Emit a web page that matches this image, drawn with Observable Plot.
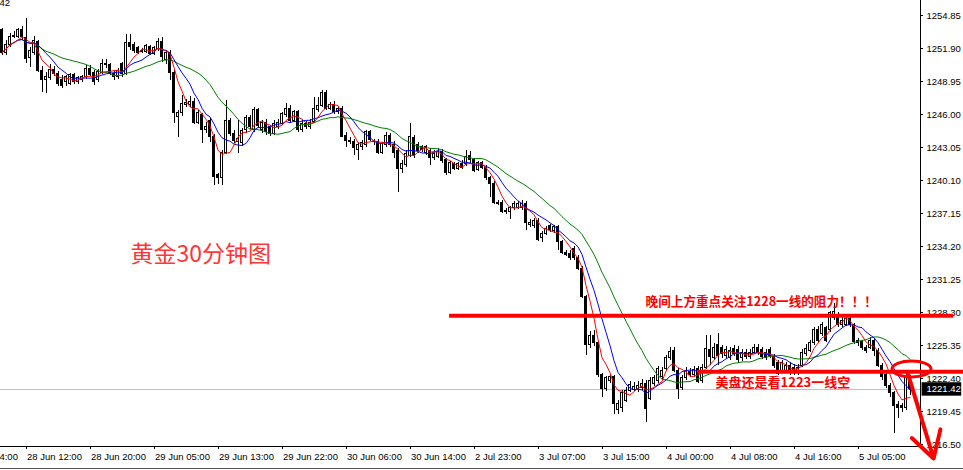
<!DOCTYPE html>
<html><head><meta charset="utf-8">
<script src="https://cdn.jsdelivr.net/npm/d3@7"></script>
<script src="https://cdn.jsdelivr.net/npm/@observablehq/plot@0.6"></script>
<style>
html,body{margin:0;padding:0;background:#fff;}
#chart svg{display:block;}
</style></head><body><div id="chart"></div>
<script>
// ---- OHLC data (XAUUSD, 30-minute bars) ----
const open = [
1253.51,1251.54,1252.17,1252.97,1252.97,1253.51,1252.88,1251.09,1251.54,1252.44,
1249.93,1249.04,1249.22,1250.02,1249.66,1249.04,1248.86,1248.77,1249.49,1248.86,
1249.04,1249.31,1250.11,1249.75,1249.04,1249.75,1250.47,1250.38,1249.66,1249.31,
1250.47,1249.66,1252.35,1252.17,1251.90,1251.72,1251.63,1251.99,1251.45,1251.81,
1252.52,1250.83,1251.54,1249.75,1245.82,1246.09,1246.89,1246.89,1247.16,1245.28,
1245.91,1244.57,1245.46,1244.03,1240.55,1240.28,1242.60,1245.46,1244.30,1243.50,
1243.41,1244.57,1245.73,1244.57,1246.36,1244.57,1245.28,1244.84,1244.30,1244.84,
1245.19,1245.91,1246.53,1245.46,1246.18,1244.57,1245.19,1244.84,1245.37,1246.36,
1246.80,1247.88,1246.53,1246.89,1246.18,1246.53,1244.12,1243.67,1243.50,1242.87,
1243.05,1243.23,1244.39,1243.58,1243.58,1242.60,1243.23,1244.12,1243.23,1242.78,
1241.17,1241.44,1242.33,1243.94,1243.23,1243.05,1242.60,1242.78,1242.07,1242.24,
1242.69,1241.89,1240.81,1241.53,1241.17,1241.53,1241.53,1242.33,1241.89,1241.08,
1241.62,1241.26,1240.28,1239.83,1238.13,1238.13,1237.24,1237.24,1237.60,1237.68,
1237.60,1238.04,1236.16,1235.99,1236.52,1235.00,1235.36,1235.99,1235.54,1235.90,
1234.56,1233.66,1233.57,1234.02,1233.21,1232.23,1229.64,1225.35,1226.24,1225.53,
1222.67,1221.50,1222.22,1222.49,1219.54,1219.72,1220.43,1221.32,1221.41,1221.41,
1221.59,1221.95,1220.61,1221.95,1222.22,1222.49,1223.29,1224.27,1224.90,1223.11,
1221.59,1222.40,1223.02,1222.75,1223.29,1222.22,1223.38,1224.99,1224.27,1225.35,
1225.17,1224.45,1224.27,1225.08,1224.99,1224.19,1224.72,1224.36,1224.72,1225.17,
1224.99,1224.72,1224.99,1224.36,1223.74,1223.11,1223.11,1223.56,1223.38,1222.93,
1223.56,1224.63,1224.90,1225.53,1226.69,1226.42,1226.87,1226.69,1227.85,1228.12,
1227.14,1227.22,1227.76,1227.14,1225.79,1225.62,1225.17,1225.17,1225.79,1224.90,
1223.56,1222.67,1221.77,1221.06,1220.07,1219.98,1219.80,1222.31];
const high = [
1253.69,1252.61,1253.24,1253.42,1253.69,1253.87,1254.58,1251.99,1252.97,1252.61,
1250.29,1249.75,1250.47,1250.29,1249.84,1249.49,1249.49,1249.66,1249.66,1249.40,
1249.49,1250.38,1250.38,1249.93,1250.02,1250.92,1250.92,1250.56,1249.93,1250.11,
1250.65,1253.15,1253.15,1252.44,1252.08,1251.90,1252.26,1252.17,1252.08,1252.79,
1252.88,1251.72,1251.72,1249.93,1246.36,1247.70,1247.34,1247.61,1247.43,1246.36,
1246.09,1245.28,1245.64,1244.21,1240.72,1242.78,1247.25,1245.64,1244.57,1245.46,
1244.75,1245.91,1245.91,1246.62,1246.53,1245.46,1245.55,1245.02,1245.46,1245.55,
1246.18,1246.98,1246.80,1246.36,1246.36,1245.46,1245.37,1245.55,1247.52,1247.52,
1248.14,1248.14,1247.07,1247.16,1246.71,1246.71,1244.39,1243.94,1243.76,1243.50,
1243.67,1244.57,1244.57,1243.76,1243.76,1243.50,1244.39,1244.30,1243.58,1242.96,
1241.89,1242.78,1245.19,1244.12,1243.50,1243.23,1243.23,1242.96,1242.78,1242.96,
1242.87,1242.07,1241.80,1241.71,1241.71,1241.89,1242.78,1242.69,1242.07,1241.80,
1241.80,1241.44,1240.46,1240.01,1238.31,1238.31,1237.60,1237.77,1238.22,1238.22,
1238.31,1238.22,1236.61,1236.70,1236.70,1235.54,1235.99,1236.16,1236.08,1236.08,
1234.73,1233.84,1233.84,1234.20,1233.39,1232.41,1229.82,1226.60,1226.69,1225.71,
1222.84,1222.58,1222.67,1222.67,1220.43,1221.32,1221.59,1222.13,1222.04,1222.13,
1222.31,1222.22,1222.49,1222.67,1223.47,1223.38,1224.45,1225.17,1225.17,1223.29,
1222.67,1223.38,1223.29,1223.47,1223.47,1223.65,1226.24,1226.24,1225.53,1226.42,
1225.35,1225.26,1225.17,1225.35,1225.26,1224.99,1224.99,1224.99,1225.44,1225.44,
1225.17,1224.99,1225.17,1224.54,1224.01,1224.01,1223.83,1223.83,1223.65,1223.65,
1224.99,1225.44,1225.79,1226.96,1227.05,1227.40,1227.05,1228.39,1229.10,1228.30,
1227.85,1227.94,1227.94,1227.31,1225.97,1225.79,1225.35,1226.06,1225.97,1225.08,
1223.74,1222.84,1221.95,1221.24,1220.34,1220.16,1222.84,1222.67];
const low = [
1251.27,1251.27,1251.99,1252.79,1252.79,1252.61,1250.56,1250.20,1251.27,1249.75,
1247.97,1247.88,1249.04,1249.40,1248.50,1248.32,1248.50,1248.59,1248.68,1248.68,
1248.86,1249.13,1249.40,1248.59,1248.86,1249.57,1250.11,1249.49,1249.04,1249.13,
1249.31,1249.49,1251.72,1251.45,1251.36,1251.45,1251.45,1251.27,1251.27,1251.63,
1250.65,1250.47,1249.04,1245.19,1243.94,1245.82,1246.62,1246.62,1245.10,1245.10,
1243.41,1244.30,1243.50,1239.65,1239.74,1239.65,1242.42,1244.03,1243.41,1242.51,
1243.14,1244.30,1244.66,1244.39,1244.75,1244.30,1244.12,1244.03,1244.12,1244.66,
1245.02,1245.73,1245.28,1245.28,1244.39,1244.39,1244.66,1244.66,1245.19,1246.18,
1246.62,1246.36,1246.36,1246.00,1246.00,1243.94,1243.05,1243.32,1242.33,1241.89,
1242.78,1243.05,1243.58,1243.23,1242.42,1242.42,1243.05,1243.05,1242.07,1239.03,
1240.72,1241.26,1242.15,1242.07,1242.51,1242.60,1242.33,1241.44,1241.89,1242.07,
1241.62,1240.55,1240.63,1240.99,1240.99,1241.08,1241.35,1241.62,1240.81,1240.90,
1241.08,1240.10,1238.58,1237.95,1237.86,1237.15,1237.06,1236.61,1237.42,1237.51,
1237.42,1235.63,1235.90,1235.81,1234.64,1234.56,1235.18,1235.45,1235.36,1233.84,
1233.48,1233.30,1232.95,1232.95,1232.05,1229.55,1224.45,1225.08,1225.26,1222.49,
1220.70,1221.24,1221.95,1219.18,1219.18,1219.36,1220.25,1221.15,1221.24,1221.15,
1221.32,1218.46,1220.43,1221.68,1221.95,1222.22,1223.02,1224.01,1222.93,1220.52,
1221.32,1222.22,1222.49,1222.49,1221.95,1221.95,1223.20,1223.56,1224.01,1223.56,
1224.19,1224.19,1224.01,1224.36,1223.74,1223.92,1224.10,1224.10,1224.54,1224.45,
1224.10,1224.01,1224.19,1223.29,1222.67,1222.93,1222.93,1222.67,1222.67,1222.67,
1223.38,1224.36,1224.72,1225.35,1225.62,1226.15,1225.62,1226.51,1227.58,1226.96,
1226.96,1227.05,1226.96,1225.44,1225.26,1224.90,1224.63,1224.99,1224.36,1223.38,
1222.22,1221.50,1220.70,1217.48,1218.82,1219.36,1219.54,1220.88];
const close = [
1251.54,1252.17,1252.97,1253.06,1253.51,1252.97,1251.00,1251.72,1252.61,1249.93,
1249.04,1249.31,1250.02,1249.66,1248.77,1248.59,1249.31,1249.49,1248.86,1249.22,
1249.31,1250.11,1249.57,1248.86,1249.84,1250.47,1250.38,1249.66,1249.31,1249.93,
1249.66,1252.35,1251.99,1251.72,1251.54,1251.63,1252.08,1251.45,1251.90,1252.52,
1251.18,1251.54,1249.75,1246.09,1246.09,1246.98,1247.07,1247.16,1245.28,1246.09,
1244.57,1244.84,1244.03,1240.37,1240.28,1242.60,1245.46,1244.30,1243.67,1243.85,
1244.48,1245.73,1244.84,1246.36,1244.93,1245.28,1244.39,1244.30,1245.19,1245.28,
1246.00,1246.53,1245.46,1246.18,1244.57,1245.19,1244.84,1245.28,1246.53,1246.80,
1247.88,1246.53,1246.89,1246.18,1246.53,1244.03,1243.67,1243.50,1242.96,1243.23,
1243.41,1244.39,1243.76,1243.50,1242.60,1243.32,1244.12,1243.23,1242.60,1241.17,
1241.53,1242.51,1244.03,1242.33,1242.78,1242.87,1243.05,1242.15,1242.51,1242.69,
1241.80,1240.81,1241.62,1241.17,1241.53,1241.26,1242.24,1241.89,1240.99,1241.62,
1241.26,1240.28,1239.83,1238.13,1238.04,1237.24,1237.33,1237.60,1238.04,1238.04,
1238.04,1236.34,1236.34,1236.52,1234.82,1235.36,1235.72,1235.63,1235.90,1234.56,
1233.66,1233.48,1233.21,1233.13,1232.23,1229.64,1225.35,1226.24,1225.53,1222.67,
1221.50,1222.40,1222.49,1220.16,1220.16,1221.06,1221.32,1221.86,1221.68,1221.77,
1221.95,1219.63,1222.22,1222.40,1223.29,1223.11,1224.27,1224.81,1223.11,1221.50,
1222.40,1223.11,1222.75,1223.20,1222.13,1223.38,1225.08,1224.36,1225.17,1224.45,
1224.63,1224.99,1224.90,1224.63,1224.01,1224.72,1224.36,1224.72,1225.17,1224.72,
1224.36,1224.27,1224.45,1223.56,1222.84,1223.74,1223.56,1222.93,1222.93,1223.38,
1224.72,1225.08,1225.53,1226.69,1225.79,1227.14,1225.79,1228.21,1228.30,1227.14,
1227.58,1227.76,1227.14,1225.62,1225.53,1225.17,1224.90,1225.79,1224.90,1223.56,
1222.49,1221.77,1221.06,1219.98,1219.80,1219.80,1222.49,1221.42];

// ---- axes ----
const xTickIndex  = [-10, 6, 22, 38, 54, 70, 86, 102, 118, 134, 150, 166, 182, 198, 214];
const xTickLabels = ["28 Jun 04:00","28 Jun 12:00","28 Jun 20:00","29 Jun 05:00","29 Jun 13:00",
  "29 Jun 22:00","30 Jun 06:00","30 Jun 14:00","2 Jul 23:00","3 Jul 07:00","3 Jul 15:00",
  "4 Jul 00:00","4 Jul 08:00","4 Jul 16:00","5 Jul 05:00"];
const yTicks = [1254.85,1251.90,1248.95,1246.00,1243.05,1240.10,1237.15,1234.20,1231.25,
  1228.30,1225.35,1222.40,1219.45,1216.50];
const lastPrice = 1221.42;

// ---- moving averages ----
const maPeriods = [20, 9, 5];
const maColors  = ["#008000", "#0000ff", "#ff0000"];

// ---- annotations ----
const levelLines = [
  {price: 1228.0, from: 111.9, to: 237.9},
  {price: 1223.0, from: 173.9, to: 240.4}
];
const notes = [
  {text: "黄金30分钟图", i: 32.1, price: 1233.48, size: 23, weight: 400, color: "#ff3535"},
  {text: "晚间上方重点关注1228一线的阻力！！！", i: 160.9, price: 1229.28, size: 12.6, weight: 700, color: "#ff0000"},
  {text: "美盘还是看1223一线空", i: 178.4, price: 1221.99, size: 13, weight: 700, color: "#ff0000"}
];
const ring = {i: 227.5, price: 1223.2};
const arrowPath = [{i1: 226.4, p1: 1222.93, i2: 232.9, p2: 1215.25}];

const bars = close.map((c, i) => ({i, open: open[i], high: high[i], low: low[i], close: c}));
const ticksX = xTickIndex.map((t, k) => ({t, label: xTickLabels[k]}));

const X0 = -0.375, X1 = 229.625, Y0 = 1216.32, Y1 = 1256.19;
const axisFont = "Liberation Sans, Arial, sans-serif";

const marks = [
  Plot.ruleY([lastPrice], {x1: X0, x2: X1, stroke: "#c0c0c0", shapeRendering: "crispEdges"}),
  Plot.ruleX(bars, {x: "i", y1: "low", y2: "high", stroke: "#000", shapeRendering: "crispEdges"}),
  Plot.rect(bars, {x1: d => d.i - 0.25, x2: d => d.i + 0.25, y1: "open", y2: "close",
    fill: d => d.close >= d.open ? "#ffffff" : "#000000", stroke: "#000", shapeRendering: "crispEdges"}),
  ...maPeriods.map((k, n) => Plot.lineY(bars, Plot.windowY({k, anchor: "end"},
    {x: "i", y: "close", stroke: maColors[n], strokeWidth: 1}))),
  // bottom axis
  Plot.ruleY([Y0], {x1: X0, x2: X1, stroke: "#000", shapeRendering: "crispEdges"}),
  Plot.ruleX(ticksX, {x: "t", y1: Y0, y2: Y0 - 0.3, stroke: "#000", shapeRendering: "crispEdges"}),
  Plot.text(ticksX, {x: "t", y: Y0, text: "label", textAnchor: "start", dx: 1, dy: 10,
    fontSize: 9.5, fontFamily: axisFont, fill: "#000"}),
  // right axis
  Plot.ruleX([X1], {y1: Y0, y2: Y1, stroke: "#000", shapeRendering: "crispEdges"}),
  Plot.ruleY(yTicks, {x1: X1, x2: X1 + 0.75, stroke: "#000", shapeRendering: "crispEdges"}),
  Plot.text(yTicks, {x: X1, y: d => d, text: d => d.toFixed(2), textAnchor: "start", dx: 6,
    fontSize: 9.5, fontFamily: axisFont, fill: "#000"}),
  Plot.rect([lastPrice], {x1: X1 + 0.4, x2: X1 + 10.3, y1: d => d - 0.6, y2: d => d + 0.6, fill: "#000"}),
  Plot.text([lastPrice], {x: X1, y: d => d, text: d => d.toFixed(2), textAnchor: "start", dx: 6,
    fontSize: 9.5, fontFamily: axisFont, fill: "#fff"}),
  // window bottom border
  Plot.ruleY([Y0 - 2.0], {x1: X0, x2: 240.4, stroke: "#505050", shapeRendering: "crispEdges"}),
  Plot.text(["42"], {x: X0, y: Y1, text: d => d, textAnchor: "start", dx: -1, dy: 2.5,
    fontSize: 9.5, fontFamily: axisFont, fill: "#000"}),
  // annotations
  Plot.ruleY(levelLines, {y: "price", x1: "from", x2: "to", stroke: "#ff0000", strokeWidth: 4}),
  ...notes.map(n => Plot.text([n], {x: "i", y: "price", text: "text", textAnchor: "start",
    fontSize: n.size, fontWeight: n.weight, fill: n.color, fontFamily: "Noto Sans CJK SC"})),
  Plot.arrow(arrowPath, {x1: "i1", y1: "p1", x2: "i2", y2: "p2", stroke: "#ff0000",
    strokeWidth: 4, headLength: 14})
];

const chart = Plot.plot({
  width: 963, height: 470,
  marginLeft: 0, marginRight: 43, marginTop: 0, marginBottom: 24,
  x: {domain: [X0, X1], axis: null},
  y: {domain: [Y0, Y1], axis: null},
  color: {type: "identity"},
  style: {background: "#fff", overflow: "visible", fontFamily: axisFont},
  marks
});

const sx = chart.scale("x"), sy = chart.scale("y");
d3.select(chart).append("ellipse")
  .attr("cx", sx.apply(ring.i)).attr("cy", sy.apply(ring.price))
  .attr("rx", 19.5).attr("ry", 8)
  .attr("fill", "none").attr("stroke", "#ff0000").attr("stroke-width", 3);

document.getElementById("chart").appendChild(chart);
</script>
</body></html>
